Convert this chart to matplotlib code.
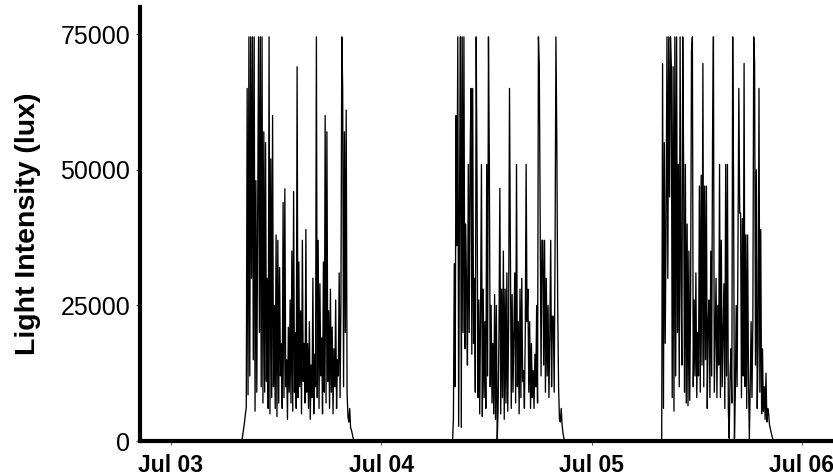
import numpy as np
import pandas as pd
import matplotlib
matplotlib.use("Agg")
import matplotlib.pyplot as plt
import matplotlib.dates as mdates

# light logger readings, klux, one value every 6 minutes from sunrise
day1 = [0, 1.2, 2.5, 3.5, 5.0, 6.2, 65, 8.5, 74.5, 12, 74.5, 30, 74.5, 15, 74.5, 5.5,
        48, 9, 42, 74.5, 20, 74.5, 10, 74.5, 7, 57, 9, 55, 11, 30, 6, 74.5,
        5, 52, 8, 60, 10, 25, 6, 38, 4.5, 37, 7, 32, 12, 18, 6, 44,
        8, 46.5, 10, 15, 4, 21, 9, 26, 7, 35, 5.5, 46, 9, 20, 6, 69,
        8, 33, 10, 24, 5, 37, 11, 18, 7, 39, 9, 18, 6, 22, 4, 14,
        8, 30, 5, 16, 10, 74.5, 8, 37, 6, 29, 12, 19, 5, 33, 9, 60,
        7, 57, 11, 24, 6, 28, 9, 21, 5, 17, 10, 26, 6, 15, 12, 31,
        8, 26, 74.5, 65, 10, 57, 20, 61, 9, 4.5, 3.5, 6, 2.5, 2, 1.2, 0.5, 0]

day2 = [0, 4, 32.7, 10, 60, 36, 74.5, 2.7, 45, 74.5, 2.5, 74.5, 20, 74.5, 17, 40,
        28, 14, 51, 20, 51, 65, 16, 65, 18, 30, 9, 74.5, 46, 8, 26, 5,
        24, 51, 4.5, 28, 8, 22, 6, 51, 12, 74.5, 51, 10, 25, 7, 18, 5,
        27, 4, 25, 0, 6, 20, 46.6, 5, 28, 8, 35, 4, 28, 7, 31, 5.5,
        22, 65, 37, 6, 27, 9, 20, 31, 7, 51, 10, 22, 5, 28, 8, 30,
        11, 13, 6, 20, 51, 22, 28, 9, 22, 6, 18, 8, 13, 6, 16, 10,
        25, 7, 74.5, 69, 41, 12, 37, 37, 14, 37, 9, 30, 12, 25, 8, 20,
        37, 10, 23, 23, 9, 36, 74.5, 55, 25, 10, 4, 3.5, 6, 3, 1.5, 0.6, 0]

day3 = [0, 69.6, 6, 55, 18, 40, 74.5, 30, 74.5, 45, 74.5, 69, 8, 69, 5.5, 74.5,
        12, 74.5, 20, 51, 10, 74.5, 30, 14, 74.5, 51, 9, 51, 7, 40, 6.5, 35,
        7.5, 28, 72, 74.5, 10, 26, 12, 31, 8, 20, 12, 47, 9, 49, 14, 69.6,
        10, 47, 15, 47, 6, 22, 26, 8, 35, 12, 55.5, 74.5, 9, 20, 30, 8,
        25, 14, 51, 8, 37, 10, 20, 29, 6, 51, 12, 51, 6, 0.5, 12, 17,
        7, 74.5, 47, 0.3, 9, 25, 10, 35, 65, 42, 42, 8, 41, 12, 69.6, 10,
        38, 6, 38, 12, 0.3, 10, 22, 8, 22, 74.5, 69.6, 14, 50, 6, 18, 65,
        9, 39, 5, 17, 5.5, 10, 4, 12.5, 3.5, 6, 5, 3, 2.2, 1.5, 0.8, 0.3, 0]

day_starts = ['2019-07-03 08:06', '2019-07-04 08:08', '2019-07-05 08:00']

times = [pd.Timestamp('2019-07-02 18:00')]
lux = [0.0]
for start, vals in zip(day_starts, [day1, day2, day3]):
    t = pd.date_range(start, periods=len(vals), freq='6min')
    times.extend(t)
    lux.extend([v * 1000 for v in vals])
times.append(pd.Timestamp('2019-07-06 06:00'))
lux.append(0.0)

fig = plt.figure(figsize=(8.33, 4.76), dpi=100)
ax = fig.add_axes([0.168, 0.0735, 0.8296, 0.9117])

ax.plot(times, lux, color='black', lw=0.95)

ax.set_xlim(pd.Timestamp('2019-07-02 20:28'), pd.Timestamp('2019-07-06 03:19'))
ax.set_ylim(0, 80000)
ax.set_yticks([0, 25000, 50000, 75000])
ax.set_yticklabels(['0', '25000', '50000', '75000'])
ax.xaxis.set_major_locator(mdates.DayLocator())
ax.xaxis.set_major_formatter(mdates.DateFormatter('%b %d'))

for s in ['top', 'right']:
    ax.spines[s].set_visible(False)
for s in ['left', 'bottom']:
    ax.spines[s].set_linewidth(3)

ax.tick_params(axis='both', direction='out', length=3, width=0.8, color='#555555')
ax.tick_params(axis='y', labelsize=18, pad=4)
ax.tick_params(axis='x', labelsize=16.5, pad=6)
for lab in ax.get_yticklabels():
    lab.set_family('Liberation Sans')
for lab in ax.get_xticklabels():
    lab.set_family('Liberation Sans')
    lab.set_fontweight('bold')

ax.set_ylabel('Light Intensity (lux)', fontsize=20.5, fontweight='bold',
              family='Liberation Sans', labelpad=14)

fig.savefig('out.png', dpi=100)
